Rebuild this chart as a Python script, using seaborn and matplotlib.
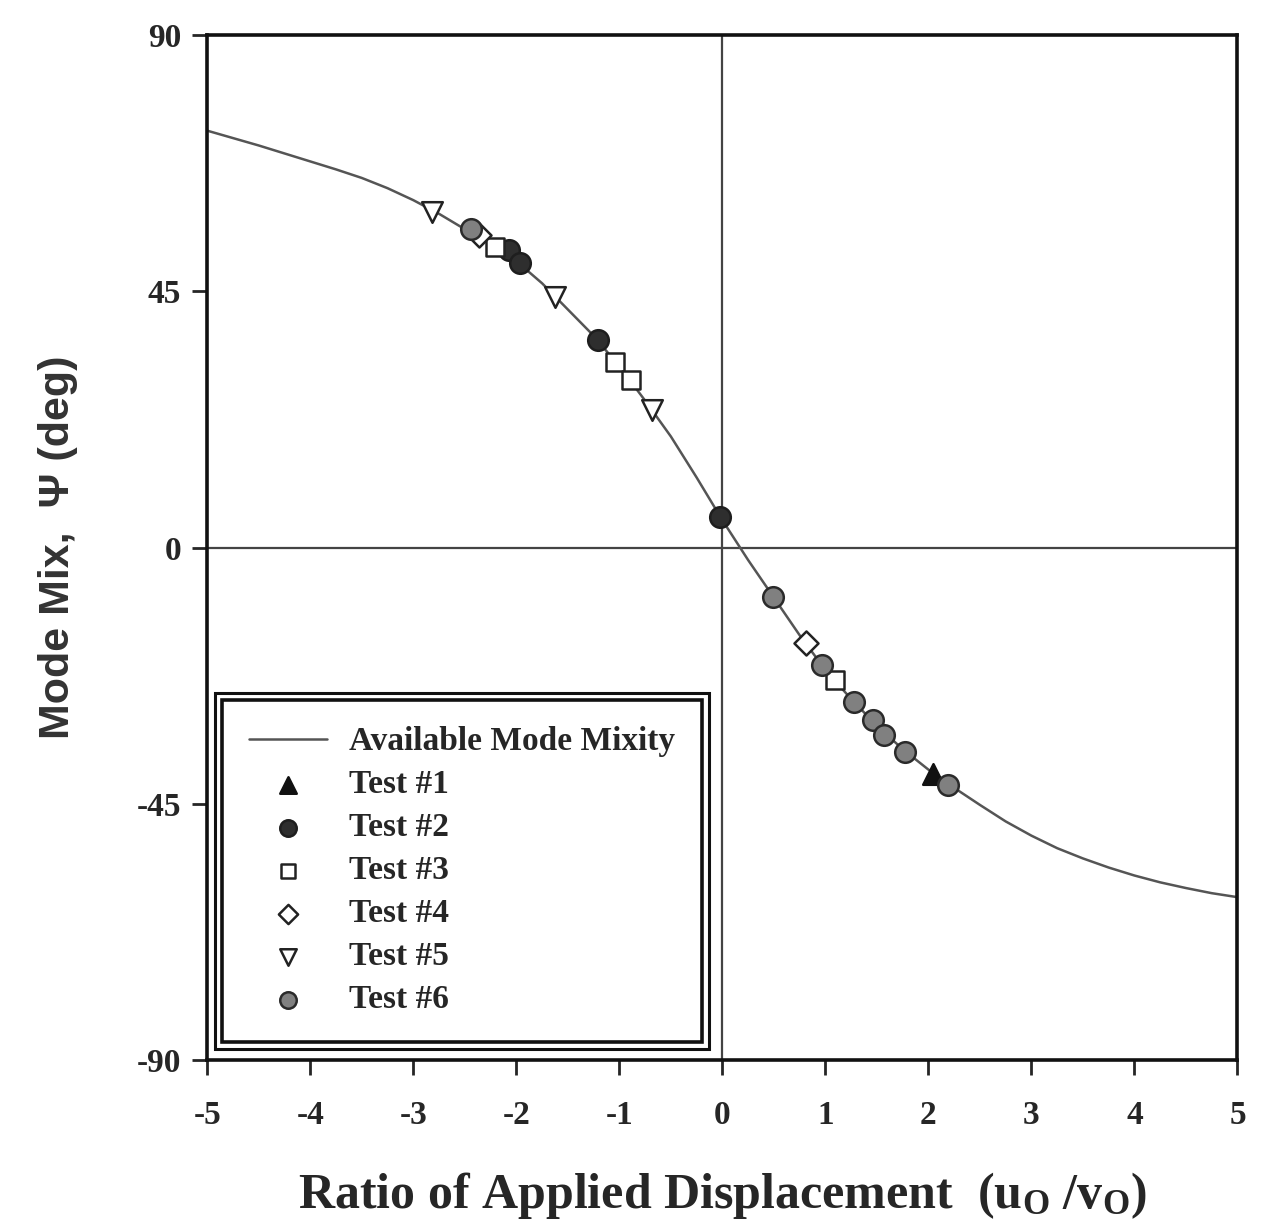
import matplotlib
matplotlib.use("Agg")
import numpy as np
import pandas as pd
import seaborn as sns
import matplotlib.pyplot as plt
from matplotlib.patches import Rectangle

# curve
curve_x = [-5, -4.75, -4.5, -4.25, -4, -3.75, -3.5, -3.25, -3, -2.75, -2.5, -2.25, -2, -1.75,
           -1.5, -1.25, -1, -0.75, -0.5, -0.25, 0, 0.25, 0.5, 0.75, 1, 1.25, 1.5, 1.75, 2,
           2.25, 2.5, 2.75, 3, 3.25, 3.5, 3.75, 4, 4.25, 4.5, 4.75, 5]
curve_y = [73.2, 71.9, 70.6, 69.2, 67.8, 66.4, 64.9, 63.1, 61.0, 58.6, 55.9, 53.3, 50.3, 46.4,
           41.8, 37.2, 31.8, 25.8, 19.5, 12.3, 4.8, -2.2, -8.8, -15.4, -21.5, -26.6, -31.3,
           -35.4, -39.0, -42.2, -45.2, -48.1, -50.6, -52.8, -54.6, -56.2, -57.6, -58.8, -59.8,
           -60.7, -61.4]

test1_x = [2.04]
test1_y = [-39.7]
test2_x = [-2.07, -1.96, -1.21, -0.02]
test2_y = [52.3, 50.0, 36.5, 5.4]
test3_x = [-2.21, -1.04, -0.89, 1.09]
test3_y = [52.8, 32.6, 29.4, -23.3]
test4_x = [-2.36, 0.81]
test4_y = [54.8, -16.8]
test5_x = [-2.82, -1.62, -0.68]
test5_y = [59.0, 44.0, 24.2]
test6_x = [-2.44, 0.49, 0.97, 1.28, 1.46, 1.57, 1.77, 2.19]
test6_y = [56.0, -8.7, -20.6, -27.2, -30.3, -33.0, -35.9, -41.7]

sns.set_style("ticks")
plt.rcParams["font.family"] = ["Liberation Serif", "DejaVu Serif"]
plt.rcParams["font.weight"] = "bold"
plt.rcParams["axes.unicode_minus"] = False
plt.rcParams["mathtext.fontset"] = "custom"
plt.rcParams["mathtext.rm"] = "Liberation Serif:bold"
plt.rcParams["mathtext.it"] = "Liberation Serif:bold"
plt.rcParams["mathtext.bf"] = "Liberation Serif:bold"

fig = plt.figure(figsize=(12.64, 12.29), dpi=100)
ax = fig.add_axes([0.164, 0.1375, 0.815, 0.834])

ax.axhline(0, color="#444444", lw=1.6, zorder=1)
ax.axvline(0, color="#444444", lw=1.6, zorder=1)

sns.lineplot(x=curve_x, y=curve_y, ax=ax, color="#555555", lw=1.8,
             label="Available Mode Mixity", zorder=2)

tests = [
    ("Test #1", test1_x, test1_y, "^", "#111111", "#111111"),
    ("Test #2", test2_x, test2_y, "o", "#2e2e2e", "#1e1e1e"),
    ("Test #3", test3_x, test3_y, "s", "white", "#222222"),
    ("Test #4", test4_x, test4_y, "D", "white", "#222222"),
    ("Test #5", test5_x, test5_y, "v", "white", "#222222"),
    ("Test #6", test6_x, test6_y, "o", "#808080", "#2a2a2a"),
]
for name, xs, ys, mk, fc, ec in tests:
    df = pd.DataFrame({"x": xs, "y": ys})
    size = 150 if mk in ("s", "D") else 220
    sns.scatterplot(data=df, x="x", y="y", ax=ax, marker=mk, color=fc,
                    edgecolor=ec, linewidth=1.8, s=size, label=name, zorder=3)

ax.set_xlim(-5, 5)
ax.set_ylim(-90, 90)
ax.set_xticks(np.arange(-5, 6, 1))
ax.set_yticks([-90, -45, 0, 45, 90])
ax.tick_params(axis="both", direction="out", length=11, width=2, labelsize=24)
ax.tick_params(axis="x", pad=18)
ax.tick_params(axis="y", pad=8)
for lab in ax.get_xticklabels() + ax.get_yticklabels():
    lab.set_fontweight("bold")
for sp in ax.spines.values():
    sp.set_visible(True)
    sp.set_linewidth(2.6)
    sp.set_color("#111111")

ax.set_xlabel(r"Ratio of Applied Displacement  (u$_{\rm O}$ /v$_{\rm O}$)",
              fontsize=36, fontweight="bold", labelpad=28)
ax.set_ylabel("Mode Mix,  Ψ (deg)", fontsize=31, labelpad=42,
              family=["Liberation Sans Narrow", "Liberation Sans", "DejaVu Sans"],
              fontweight="bold", color="#333333")

leg = ax.legend(loc="lower left", bbox_to_anchor=(0.0146, 0.0176), borderaxespad=0,
                fontsize=24, frameon=True, fancybox=False, edgecolor="#111111",
                framealpha=1, handlelength=2.35, handletextpad=0.65, labelspacing=0.36,
                borderpad=0.8, markerscale=0.8)
leg.get_frame().set_linewidth(2.6)
for t in leg.get_texts():
    t.set_fontweight("bold")

fig.canvas.draw()
bb = leg.get_window_extent().transformed(fig.transFigure.inverted())
pad_x = 7 / fig.bbox.width
pad_y = 7 / fig.bbox.height
fig.patches.append(Rectangle((bb.x0 - pad_x, bb.y0 - pad_y), bb.width + 2 * pad_x,
                             bb.height + 2 * pad_y, transform=fig.transFigure,
                             fill=False, edgecolor="#111111", lw=2.2, zorder=5))

fig.savefig("out.png", dpi=100)
